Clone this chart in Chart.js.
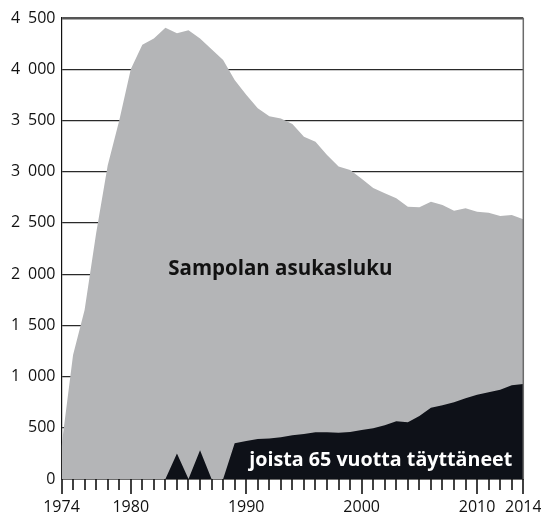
<!DOCTYPE html>
<html>
<head>
<meta charset="utf-8">
<script src="https://cdn.jsdelivr.net/npm/chart.js@4.4.1/dist/chart.umd.min.js"></script>
<style>
html,body{margin:0;padding:0;background:#fff;}
#wrap{width:541px;height:515px;position:relative;}
</style>
</head>
<body>
<div id="wrap"><canvas id="c" width="541" height="515"></canvas></div>
<script>
const years = [1974,1975,1976,1977,1978,1979,1980,1981,1982,1983,1984,1985,1986,1987,1988,1989,1990,1991,1992,1993,1994,1995,1996,1997,1998,1999,2000,2001,2002,2003,2004,2005,2006,2007,2008,2009,2010,2011,2012,2013,2014];
const population = [320,1210,1650,2400,3060,3500,4000,4240,4300,4405,4350,4380,4300,4195,4090,3895,3750,3620,3540,3520,3466,3342,3293,3163,3050,3016,2930,2840,2790,2740,2658,2652,2707,2675,2619,2642,2609,2600,2567,2577,2535];
const aged65 = [0,0,0,0,0,0,0,0,0,0,250,0,280,0,0,350,370,390,395,407,426,439,456,456,452,459,478,495,524,563,553,615,696,719,748,788,823,846,872,915,927];
const xLabelYears = [1974,1980,1990,2000,2010,2014];
const yTicks = [0,500,1000,1500,2000,2500,3000,3500,4000,4500];
const labelPopulation = "Sampolan asukasluku";
const labelAged = "joista 65 vuotta täyttäneet";

const FONT = "'Open Sans', 'Noto Sans', sans-serif";

const decor = {
  id: 'decor',
  afterDatasetsDraw(chart) {
    const {ctx, chartArea: a, scales: {x, y}} = chart;
    ctx.save();
    ctx.strokeStyle = '#6b6b6b';
    ctx.lineWidth = 1.5;
    ctx.beginPath();
    ctx.moveTo(a.right, a.top);
    ctx.lineTo(a.right, a.bottom);
    ctx.stroke();
    ctx.strokeStyle = '#111';
    ctx.lineWidth = 1.6;
    years.forEach(yr => {
      const px = Math.round(x.getPixelForValue(yr));
      const len = xLabelYears.includes(yr) ? 15 : 11;
      ctx.beginPath();
      ctx.moveTo(px, a.bottom);
      ctx.lineTo(px, a.bottom + len);
      ctx.stroke();
    });
    ctx.textAlign = 'center';
    ctx.textBaseline = 'middle';
    ctx.fillStyle = '#111';
    ctx.font = "bold 20.5px " + FONT;
    ctx.fillText(labelPopulation, x.getPixelForValue(1992.95), y.getPixelForValue(2050));
    ctx.fillStyle = '#ffffff';
    ctx.font = "bold 19.7px " + FONT;
    ctx.fillText(labelAged, x.getPixelForValue(2001.65), y.getPixelForValue(180));
    ctx.restore();
  }
};

new Chart(document.getElementById('c'), {
  type: 'line',
  data: {
    labels: years,
    datasets: [
      {
        label: labelAged,
        data: years.map((yr, i) => ({x: yr, y: aged65[i]})),
        backgroundColor: '#0e1118',
        borderWidth: 0,
        pointRadius: 0,
        fill: 'origin',
        tension: 0,
        order: 0
      },
      {
        label: labelPopulation,
        data: years.map((yr, i) => ({x: yr, y: population[i]})),
        backgroundColor: '#b4b5b7',
        borderWidth: 0,
        pointRadius: 0,
        fill: 'origin',
        tension: 0,
        order: 1
      }
    ]
  },
  options: {
    responsive: false,
    animation: false,
    devicePixelRatio: 1,
    layout: {padding: {top: 18, right: 0, left: 0, bottom: 0}},
    plugins: {legend: {display: false}, tooltip: {enabled: false}},
    scales: {
      x: {
        type: 'linear',
        min: 1974,
        max: 2014,
        afterBuildTicks(scale) { scale.ticks = xLabelYears.map(v => ({value: v})); },
        afterFit(scale) { scale.height = 36; scale.paddingRight = 17.7; scale.paddingLeft = 0; },
        grid: {display: false, drawTicks: false},
        border: {display: true, color: '#111', width: 1.5},
        ticks: {
          autoSkip: false, maxRotation: 0, padding: 18.5,
          color: '#111',
          font: {family: FONT, size: 16},
          callback: v => String(v)
        }
      },
      y: {
        min: 0,
        max: 4500,
        afterBuildTicks(scale) { scale.ticks = yTicks.map(v => ({value: v})); },
        afterFit(scale) { scale.width = 61.5; },
        grid: {
          drawTicks: false,
          color: ctx => ctx.tick && ctx.tick.value === 4500 ? '#555555' : '#2a2a2a',
          lineWidth: ctx => ctx.tick && ctx.tick.value === 4500 ? 2.5 : 1.2
        },
        border: {display: true, color: '#111', width: 1.2},
        ticks: {
          padding: 6,
          color: '#111',
          font: {family: FONT, size: 16},
          callback: v => String(v).replace(/\B(?=(\d{3})+(?!\d))/g, '\u2002')
        }
      }
    }
  },
  plugins: [decor]
});
</script>
</body>
</html>
